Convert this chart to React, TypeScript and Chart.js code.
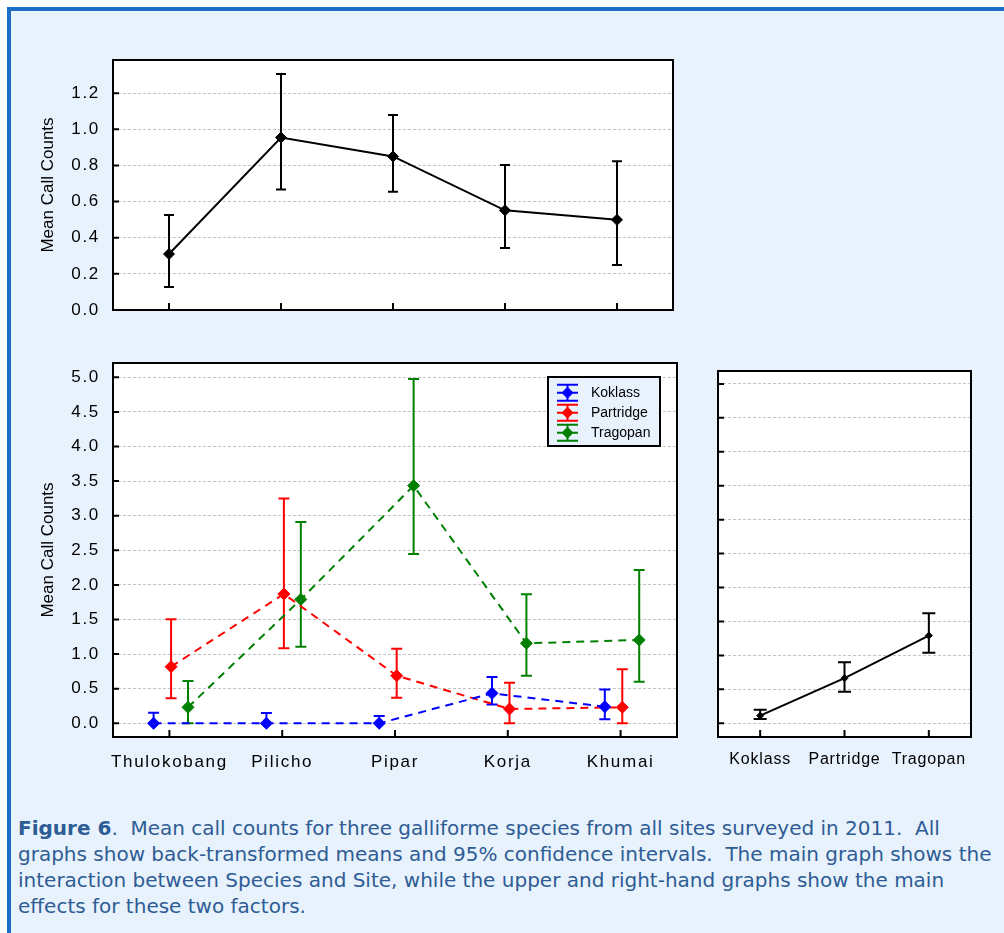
import React, { useEffect, useRef } from 'react';
import { Chart, registerables } from 'chart.js';

Chart.register(...registerables);

// ---------- data ----------
const sites = ['Thulokobang', 'Pilicho', 'Pipar', 'Korja', 'Khumai'];
const species = ['Koklass', 'Partridge', 'Tragopan'];

// upper graph: main effect of Site
const siteMean = [0.31, 0.955, 0.85, 0.552, 0.499];
const siteLow = [0.127, 0.667, 0.655, 0.343, 0.249];
const siteHigh = [0.526, 1.307, 1.079, 0.803, 0.824];

// main graph: Species x Site
const koklassMean = [0.0, 0.0, 0.0, 0.433, 0.24];
const koklassLow = [0.0, 0.0, 0.0, 0.27, 0.058];
const koklassHigh = [0.153, 0.15, 0.105, 0.67, 0.49];

const partridgeMean = [0.818, 1.869, 0.688, 0.207, 0.231];
const partridgeLow = [0.361, 1.084, 0.37, 0.0, 0.0];
const partridgeHigh = [1.503, 3.25, 1.078, 0.587, 0.78];

const tragopanMean = [0.231, 1.79, 3.434, 1.156, 1.204];
const tragopanLow = [0.0, 1.107, 2.446, 0.688, 0.601];
const tragopanHigh = [0.611, 2.91, 4.975, 1.864, 2.215];

// right graph: main effect of Species
const speciesMean = [0.112, 0.664, 1.292];
const speciesLow = [0.063, 0.466, 1.041];
const speciesHigh = [0.2, 0.9, 1.622];

// tick values
const topTicks = [0, 0.2, 0.4, 0.6, 0.8, 1.0, 1.2];
const mainTicks = [0, 0.5, 1.0, 1.5, 2.0, 2.5, 3.0, 3.5, 4.0, 4.5, 5.0];
const siteTicks = [0, 1, 2, 3, 4];

// ---------- styles ----------
const speciesColors = ['#0000ff', '#ff0000', '#008000'];
const speciesOffsets = [-0.14, 0.015, 0.165];
const FONT = '"Liberation Sans", Arial, sans-serif';
const PANEL_BG = '#e8f2fd';
const GRID = '#c4c4c4';

Chart.defaults.font.family = FONT;
Chart.defaults.color = '#000';

function zeroPad(s: any) {
  s.paddingTop = 0;
  s.paddingBottom = 0;
  s.paddingLeft = 0;
  s.paddingRight = 0;
}

type ErrCfg = { ds: number; low: number[]; high: number[]; color: string };

function decor(cfg: {
  errors: ErrCfg[];
  cap: number;
  xTickValues: number[];
  spacing: string;
  title?: string;
  legend?: boolean;
}) {
  return {
    id: 'decor',
    beforeDraw(chart: any) {
      const { ctx, chartArea: a } = chart;
      ctx.save();
      ctx.fillStyle = '#ffffff';
      ctx.fillRect(a.left, a.top, a.right - a.left, a.bottom - a.top);
      ctx.restore();
      ctx.letterSpacing = cfg.spacing;
    },
    beforeDatasetsDraw(chart: any) {
      const ctx = chart.ctx;
      const ys = chart.scales.y;
      cfg.errors.forEach((e) => {
        const meta = chart.getDatasetMeta(e.ds);
        ctx.save();
        ctx.strokeStyle = e.color;
        ctx.lineWidth = 2;
        ctx.setLineDash([]);
        meta.data.forEach((pt: any, j: number) => {
          const x = pt.x;
          const yl = ys.getPixelForValue(e.low[j]);
          const yh = ys.getPixelForValue(e.high[j]);
          ctx.beginPath();
          ctx.moveTo(x, yl);
          ctx.lineTo(x, yh);
          ctx.moveTo(x - cfg.cap, yl);
          ctx.lineTo(x + cfg.cap, yl);
          ctx.moveTo(x - cfg.cap, yh);
          ctx.lineTo(x + cfg.cap, yh);
          ctx.stroke();
        });
        ctx.restore();
      });
    },
    afterDraw(chart: any) {
      const { ctx, chartArea: a } = chart;
      ctx.letterSpacing = '0px';
      ctx.save();
      ctx.strokeStyle = '#000';
      ctx.lineWidth = 2;
      ctx.setLineDash([]);
      // inner tick marks
      ctx.beginPath();
      chart.scales.y.ticks.forEach((t: any) => {
        const py = chart.scales.y.getPixelForValue(t.value);
        ctx.moveTo(a.left, py);
        ctx.lineTo(a.left + 6, py);
      });
      cfg.xTickValues.forEach((v) => {
        const px = chart.scales.x.getPixelForValue(v);
        ctx.moveTo(px, a.bottom);
        ctx.lineTo(px, a.bottom - 7);
      });
      ctx.stroke();
      // frame
      ctx.strokeRect(a.left, a.top, a.right - a.left, a.bottom - a.top);
      ctx.restore();

      if (cfg.title) {
        ctx.save();
        ctx.translate(48, (a.top + a.bottom) / 2);
        ctx.rotate(-Math.PI / 2);
        ctx.font = `17px ${FONT}`;
        ctx.fillStyle = '#000';
        ctx.textAlign = 'center';
        ctx.textBaseline = 'middle';
        ctx.fillText(cfg.title, 0, 0);
        ctx.restore();
      }

      if (cfg.legend) {
        const w = 112;
        const h = 69;
        const lx = a.right - 17 - w;
        const ly = a.top + 14;
        ctx.save();
        ctx.fillStyle = PANEL_BG;
        ctx.fillRect(lx, ly, w, h);
        ctx.strokeStyle = '#000';
        ctx.lineWidth = 2;
        ctx.strokeRect(lx, ly, w, h);
        species.forEach((name, i) => {
          const cy = ly + 15.7 + i * 20;
          const cx = lx + 19.5;
          const col = speciesColors[i];
          ctx.strokeStyle = col;
          ctx.fillStyle = col;
          ctx.lineWidth = 2;
          ctx.beginPath();
          ctx.moveTo(cx - 10.5, cy - 8);
          ctx.lineTo(cx + 10.5, cy - 8);
          ctx.moveTo(cx - 10.5, cy + 8);
          ctx.lineTo(cx + 10.5, cy + 8);
          ctx.moveTo(cx, cy - 8);
          ctx.lineTo(cx, cy + 8);
          ctx.moveTo(cx - 10.5, cy);
          ctx.lineTo(cx + 10.5, cy);
          ctx.stroke();
          ctx.beginPath();
          ctx.moveTo(cx - 6, cy);
          ctx.lineTo(cx, cy - 6);
          ctx.lineTo(cx + 6, cy);
          ctx.lineTo(cx, cy + 6);
          ctx.closePath();
          ctx.fill();
          ctx.fillStyle = '#000';
          ctx.font = `14px ${FONT}`;
          ctx.textAlign = 'left';
          ctx.textBaseline = 'middle';
          ctx.fillText(name, lx + 43, cy);
        });
        ctx.restore();
      }
    },
  };
}

function yAxis(min: number, max: number, ticks: number[], width: number, showLabels: boolean) {
  return {
    type: 'linear',
    min,
    max,
    afterBuildTicks: (s: any) => {
      s.ticks = ticks.map((v) => ({ value: v }));
    },
    afterFit: (s: any) => {
      s.width = width;
      zeroPad(s);
    },
    ticks: {
      display: showLabels,
      padding: 13,
      color: '#000',
      font: { size: 17, family: FONT },
      callback: (v: any) => Number(v).toFixed(1),
    },
    grid: { color: GRID, lineWidth: 1, drawTicks: false },
    border: { display: false, dash: [3, 2] },
  };
}

function useChart(ref: React.RefObject<HTMLCanvasElement>, make: () => any) {
  useEffect(() => {
    if (!ref.current) return;
    const chart = new Chart(ref.current, make());
    return () => chart.destroy();
  }, []);
}

export default function App() {
  const topRef = useRef<HTMLCanvasElement>(null);
  const mainRef = useRef<HTMLCanvasElement>(null);
  const rightRef = useRef<HTMLCanvasElement>(null);

  useChart(topRef, () => ({
    type: 'line',
    data: {
      labels: sites,
      datasets: [
        {
          data: siteMean,
          borderColor: '#000',
          backgroundColor: '#000',
          borderWidth: 2,
          pointStyle: 'rectRot',
          pointRadius: 5.5,
          pointBorderWidth: 1,
          pointBackgroundColor: '#000',
          tension: 0,
        },
      ],
    },
    options: {
      responsive: false,
      animation: false,
      events: [],
      layout: { padding: { left: 0, right: 27, top: 20, bottom: 20 } },
      plugins: { legend: { display: false }, tooltip: { enabled: false } },
      scales: {
        x: {
          type: 'category',
          offset: true,
          grid: { display: false, drawTicks: false },
          border: { display: false },
          ticks: { display: false },
          afterFit: (s: any) => {
            s.height = 0;
            zeroPad(s);
          },
        },
        y: yAxis(0, 1.384, topTicks, 113, true),
      },
    },
    plugins: [
      decor({
        errors: [{ ds: 0, low: siteLow, high: siteHigh, color: '#000' }],
        cap: 5,
        xTickValues: siteTicks,
        spacing: '1.7px',
        title: 'Mean Call Counts',
      }),
    ],
  }));

  useChart(mainRef, () => {
    const means = [koklassMean, partridgeMean, tragopanMean];
    return {
      type: 'line',
      data: {
        datasets: species.map((name, k) => ({
          label: name,
          data: means[k].map((y, i) => ({ x: i + speciesOffsets[k], y })),
          borderColor: speciesColors[k],
          backgroundColor: speciesColors[k],
          pointBackgroundColor: speciesColors[k],
          borderWidth: 2,
          borderDash: [8, 6],
          pointStyle: 'rectRot',
          pointRadius: 6,
          pointBorderWidth: 1,
          tension: 0,
        })),
      },
      options: {
        responsive: false,
        animation: false,
        events: [],
        layout: { padding: { left: 0, right: 23, top: 13, bottom: 0 } },
        plugins: { legend: { display: false }, tooltip: { enabled: false } },
        scales: {
          x: {
            type: 'linear',
            min: -0.5,
            max: 4.5,
            afterBuildTicks: (s: any) => {
              s.ticks = siteTicks.map((v) => ({ value: v }));
            },
            afterFit: (s: any) => {
              s.height = 53;
              zeroPad(s);
            },
            grid: { display: false, drawTicks: false },
            border: { display: false },
            ticks: {
              padding: 14.8,
              maxRotation: 0,
              minRotation: 0,
              autoSkip: false,
              color: '#000',
              font: { size: 17, family: FONT },
              callback: (v: any) => sites[Math.round(Number(v))],
            },
          },
          y: yAxis(-0.198, 5.207, mainTicks, 113, true),
        },
      },
      plugins: [
        decor({
          errors: [
            { ds: 0, low: koklassLow, high: koklassHigh, color: speciesColors[0] },
            { ds: 1, low: partridgeLow, high: partridgeHigh, color: speciesColors[1] },
            { ds: 2, low: tragopanLow, high: tragopanHigh, color: speciesColors[2] },
          ],
          cap: 5.5,
          xTickValues: siteTicks,
          spacing: '1.7px',
          title: 'Mean Call Counts',
          legend: true,
        }),
      ],
    };
  });

  useChart(rightRef, () => ({
    type: 'line',
    data: {
      labels: species,
      datasets: [
        {
          data: speciesMean,
          borderColor: '#000',
          backgroundColor: '#000',
          pointBackgroundColor: '#000',
          borderWidth: 2,
          pointStyle: 'rectRot',
          pointRadius: 3.5,
          pointBorderWidth: 1,
          tension: 0,
        },
      ],
    },
    options: {
      responsive: false,
      animation: false,
      events: [],
      layout: { padding: { left: 0, right: 33, top: 21, bottom: 0 } },
      plugins: { legend: { display: false }, tooltip: { enabled: false } },
      scales: {
        x: {
          type: 'category',
          offset: true,
          afterFit: (s: any) => {
            s.height = 53;
            zeroPad(s);
          },
          grid: { display: false, drawTicks: false },
          border: { display: false },
          ticks: {
            padding: 13.4,
            maxRotation: 0,
            minRotation: 0,
            autoSkip: false,
            color: '#000',
            font: { size: 16, family: FONT },
          },
        },
        y: yAxis(-0.202, 5.19, mainTicks, 18, false),
      },
    },
    plugins: [
      decor({
        errors: [{ ds: 0, low: speciesLow, high: speciesHigh, color: '#000' }],
        cap: 6.5,
        xTickValues: [0, 1, 2],
        spacing: '0.8px',
      }),
    ],
  }));

  const caption =
    '.  Mean call counts for three galliforme species from all sites surveyed in 2011.  All\n' +
    'graphs show back-transformed means and 95% confidence intervals.  The main graph shows the\n' +
    'interaction between Species and Site, while the upper and right-hand graphs show the main\n' +
    'effects for these two factors.';

  return (
    <div
      style={{
        position: 'fixed',
        left: 0,
        top: 0,
        width: 1004,
        height: 933,
        overflow: 'hidden',
        background: '#ffffff',
      }}
    >
      <div
        style={{
          position: 'absolute',
          left: 7,
          top: 7,
          width: 1030,
          height: 960,
          borderLeft: '4px solid #1a6fc4',
          borderTop: '4px solid #1a6fc4',
          background: PANEL_BG,
        }}
      />
      <canvas
        ref={topRef}
        width={700}
        height={290}
        style={{ position: 'absolute', left: 0, top: 40, width: 700, height: 290 }}
      />
      <canvas
        ref={mainRef}
        width={700}
        height={440}
        style={{ position: 'absolute', left: 0, top: 350, width: 700, height: 440 }}
      />
      <canvas
        ref={rightRef}
        width={304}
        height={440}
        style={{ position: 'absolute', left: 700, top: 350, width: 304, height: 440 }}
      />
      <div
        style={{
          position: 'absolute',
          left: 18,
          top: 815,
          fontFamily: '"DejaVu Sans", Verdana, sans-serif',
          fontSize: 20,
          lineHeight: '26px',
          color: '#2e5c94',
          whiteSpace: 'pre',
        }}
      >
        <b>Figure 6</b>
        {caption}
      </div>
    </div>
  );
}
